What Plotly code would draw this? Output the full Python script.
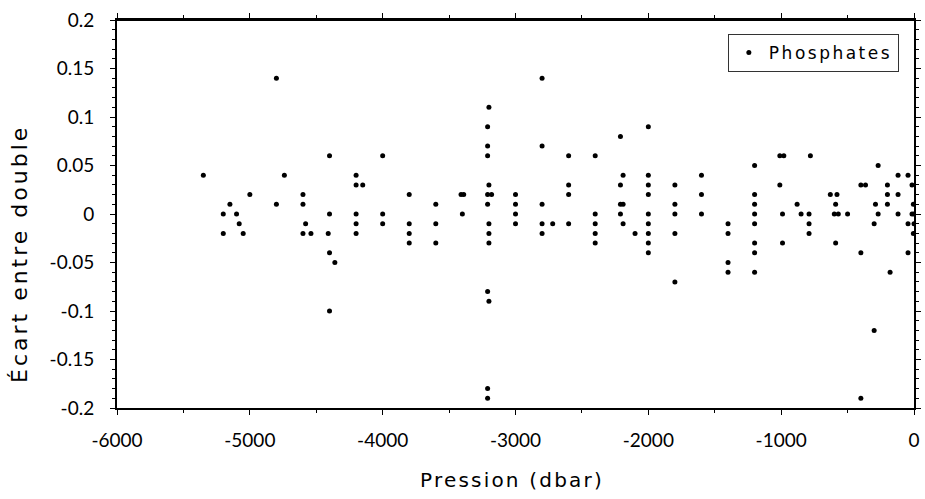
import plotly.graph_objects as go

# Data (pressure in dbar, difference between duplicates)
pressure = [
    -5350,
    -5200, -5200,
    -5150, -5100, -5080, -5050, -5000,
    -4800, -4800, -4740,
    -4600, -4600, -4600, -4580, -4540,
    -4400, -4400, -4400, -4400, -4410, -4360,
    -4200, -4200, -4200, -4200, -4200, -4150,
    -4000, -4000, -4000,
    -3800, -3800, -3800, -3800,
    -3600, -3600, -3600,
    -3410, -3390, -3400,
    -3200, -3200, -3200, -3200, -3200, -3200,
    -3210, -3210, -3210, -3210, -3210, -3210, -3210, -3210, -3180,
    -3000, -3000, -3000, -3000,
    -2800, -2800, -2800, -2800, -2800, -2720,
    -2600, -2600, -2600, -2600,
    -2400, -2400, -2400, -2400, -2400,
    -2210, -2210, -2210, -2210,
    -2190, -2190, -2190, -2100,
    -2000, -2000, -2000, -2000, -2000, -2000, -2000, -2000, -2000,
    -1800, -1800, -1800, -1800, -1800,
    -1600, -1600, -1600,
    -1400, -1400, -1400, -1400,
    -1200, -1200, -1200, -1200, -1200, -1200, -1200, -1200,
    -1010, -1010, -980, -990, -990,
    -880, -850, -790, -790, -790, -780,
    -630, -580, -590, -590, -600, -570, -500,
    -400, -400, -400, -365,
    -300, -300, -290, -270, -270,
    -200, -200, -200, -180,
    -120, -120, -120,
    -45, -45, -45,
    -15, -15, -5, -5, 0, 0,
]
ecart = [
    0.04,
    0.0, -0.02,
    0.01, 0.0, -0.01, -0.02, 0.02,
    0.14, 0.01, 0.04,
    0.02, 0.01, -0.02, -0.01, -0.02,
    0.06, 0.0, -0.04, -0.10, -0.02, -0.05,
    0.04, 0.03, 0.0, -0.01, -0.02, 0.03,
    0.06, 0.0, -0.01,
    0.02, -0.01, -0.02, -0.03,
    0.01, -0.01, -0.03,
    0.02, 0.02, 0.0,
    0.11, 0.03, -0.01, -0.02, -0.03, -0.09,
    0.09, 0.07, 0.06, 0.02, 0.01, -0.08, -0.18, -0.19, 0.02,
    0.02, 0.01, 0.0, -0.01,
    0.14, 0.07, 0.01, -0.01, -0.02, -0.01,
    0.06, 0.03, 0.02, -0.01,
    0.06, 0.0, -0.01, -0.02, -0.03,
    0.08, 0.03, 0.01, 0.0,
    0.04, 0.01, -0.01, -0.02,
    0.09, 0.04, 0.03, 0.02, 0.0, -0.01, -0.02, -0.03, -0.04,
    0.03, 0.01, 0.0, -0.02, -0.07,
    0.04, 0.02, 0.0,
    -0.01, -0.02, -0.05, -0.06,
    0.05, 0.02, 0.01, 0.0, -0.01, -0.03, -0.04, -0.06,
    0.06, 0.03, 0.06, 0.0, -0.03,
    0.01, 0.0, 0.0, -0.01, -0.02, 0.06,
    0.02, 0.02, 0.01, -0.03, 0.0, 0.0, 0.0,
    0.03, -0.04, -0.19, 0.03,
    -0.12, -0.01, 0.01, 0.05, 0.0,
    0.03, 0.02, 0.01, -0.06,
    0.04, 0.02, 0.0,
    0.04, -0.01, -0.04,
    0.03, 0.0, 0.01, -0.02, 0.0, -0.01,
]

x_tickvals = [-6000, -5000, -4000, -3000, -2000, -1000, 0]
x_ticktext = ["-6000", "-5000", "-4000", "-3000", "-2000", "-1000", "0"]
y_tickvals = [0.2, 0.15, 0.1, 0.05, 0, -0.05, -0.1, -0.15, -0.2]
y_ticktext = ["0.2", "0.15", "0.1", "0.05", "0", "-0.05", "-0.1", "-0.15", "-0.2"]

x_title = "Pression (dbar)"
y_title = "Écart entre double"
series_name = "Phosphates"

tick_font = "Lato, 'Noto Sans', sans-serif"
title_font = "'DejaVu Sans', sans-serif"


def spaced(text, px):
    return '<span style="letter-spacing:%spx">%s</span>' % (px, text)


fig = go.Figure()
fig.add_trace(go.Scatter(
    x=pressure, y=ecart, mode="markers", name=spaced(series_name, 2.5),
    marker=dict(color="black", size=5),
))

# plot area: x 117..914, y 20..408 (pixels)
fig.update_layout(
    width=925, height=499,
    margin=dict(l=117, r=11, t=20, b=91),
    paper_bgcolor="white", plot_bgcolor="white",
    font=dict(family=tick_font, color="black", size=19),
    showlegend=True,
    legend=dict(
        x=0.981, y=0.964, xanchor="right", yanchor="top",
        bordercolor="#333333", borderwidth=1, bgcolor="white",
        font=dict(size=17, family=title_font, color="black"),
        itemsizing="trace", tracegroupgap=0,
    ),
    xaxis=dict(
        range=[-6000, 0], tickvals=x_tickvals, ticktext=x_ticktext,
        showgrid=False, zeroline=False, automargin=False,
        ticklabeloverflow="allow",
        showline=True, linecolor="black", linewidth=2, mirror="all",
        ticks="outside", ticklen=5, tickcolor="black",
        minor=dict(dtick=500, ticks="outside", ticklen=3, tickcolor="black"),
        tickfont=dict(size=19, family=tick_font),
        ticklabelstandoff=9,
    ),
    yaxis=dict(
        range=[-0.2, 0.2], tickvals=y_tickvals, ticktext=y_ticktext,
        showgrid=False, zeroline=False, automargin=False,
        ticklabeloverflow="allow",
        showline=True, linecolor="black", linewidth=2, mirror="all",
        ticks="outside", ticklen=5, tickcolor="black",
        minor=dict(dtick=0.01, tick0=0, ticks="outside", ticklen=3, tickcolor="black"),
        tickfont=dict(size=19, family=tick_font),
        ticklabelstandoff=12,
    ),
    shapes=[
        dict(type="line", xref="paper", yref="paper", x0=0, x1=1, y0=1, y1=1,
             line=dict(color="black", width=2), layer="above"),
    ],
    annotations=[
        dict(text=spaced(x_title, 2.2), xref="paper", yref="paper", x=0.496, y=-0.1856,
             xanchor="center", yanchor="middle", showarrow=False,
             font=dict(size=20, family=title_font, color="black")),
        dict(text=spaced(y_title, 3), xref="paper", yref="paper", x=-0.1217, y=0.0593,
             xanchor="center", yanchor="bottom", textangle=-90, showarrow=False,
             font=dict(size=22, family=title_font, color="black")),
    ],
)

fig.write_html(
    "out.html",
    config={"displayModeBar": False},
    post_script="document.body.style.margin='0';document.body.style.overflow='hidden';",
)
